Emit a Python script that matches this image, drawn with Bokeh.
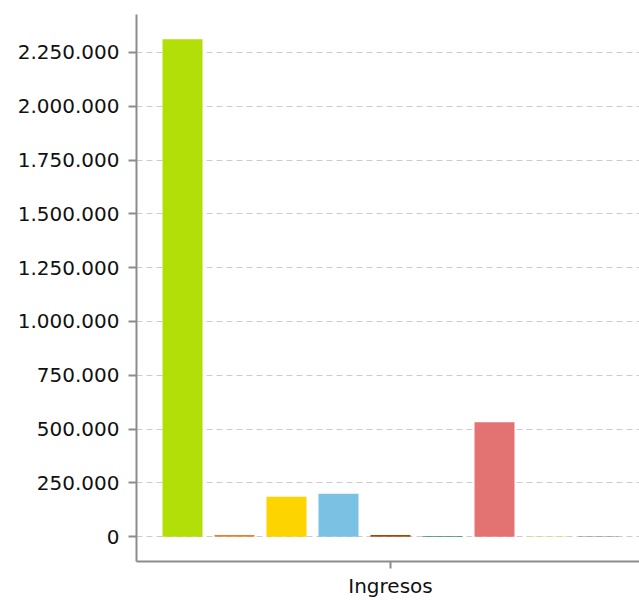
import numpy as np
from bokeh.plotting import figure
from bokeh.models import Range1d, FixedTicker, CustomJSTickFormatter, ColumnDataSource
from bokeh.embed import file_html
from bokeh.resources import INLINE

category = "Ingresos"
series = ["S1", "S2", "S3", "S4", "S5", "S6", "S7", "S8", "S9"]
values = [2311000, 8000, 186000, 200000, 8000, 3000, 532000, 2000, 2000]
colors = ["#b2df07", "#e8812c", "#fdd300", "#7bc1e4", "#a84408",
          "#3b8f66", "#e37373", "#d4ea76", "#8c8c8c"]
y_ticks = [0, 250000, 500000, 750000, 1000000, 1250000, 1500000,
           1750000, 2000000, 2250000]

n = len(series)
xpos = np.arange(n) - (n - 1) / 2

src = ColumnDataSource(dict(x=xpos, top=values, color=colors, name=series))

p = figure(width=639, height=600,
           min_border_left=136, min_border_top=14, min_border_right=0,
           output_backend="svg", toolbar_location=None,
           x_range=Range1d(-254 / 52, 249 / 52),
           y_range=Range1d(-115000, 2426000))
p.outline_line_color = None
p.background_fill_color = "white"

p.vbar(x="x", top="top", bottom=0, width=40 / 52, fill_color="color",
       line_color=None, source=src)

# y axis
p.yaxis.ticker = FixedTicker(ticks=y_ticks)
p.yaxis.formatter = CustomJSTickFormatter(code="""
    return tick.toFixed(0).replace(/\\B(?=(\\d{3})+(?!\\d))/g, '.');
""")
p.yaxis.minor_tick_line_color = None
p.yaxis.major_tick_in = 0
p.yaxis.major_tick_out = 8
p.yaxis.axis_line_color = "#8c8c8c"
p.yaxis.axis_line_width = 2
p.yaxis.major_tick_line_color = "#8c8c8c"
p.yaxis.major_tick_line_width = 2
p.yaxis.major_label_text_font = "DejaVu Sans"
p.yaxis.major_label_text_font_size = "20px"
p.yaxis.major_label_text_color = "#111111"
p.yaxis.major_label_standoff = 9

# x axis
p.xaxis.ticker = FixedTicker(ticks=[0])
p.xaxis.major_label_overrides = {0: category}
p.xaxis.minor_tick_line_color = None
p.xaxis.major_tick_in = 0
p.xaxis.major_tick_out = 7
p.xaxis.axis_line_color = "#8c8c8c"
p.xaxis.axis_line_width = 2
p.xaxis.major_tick_line_color = "#8c8c8c"
p.xaxis.major_tick_line_width = 2
p.xaxis.major_label_text_font = "DejaVu Sans"
p.xaxis.major_label_text_font_size = "20px"
p.xaxis.major_label_text_color = "#111111"
p.xaxis.major_label_standoff = 5

p.xgrid.grid_line_color = None
p.ygrid.grid_line_color = "#cccccc"
p.ygrid.grid_line_dash = "6 4"
p.ygrid.grid_line_width = 1

open("out.html", "w").write(file_html(p, INLINE))
